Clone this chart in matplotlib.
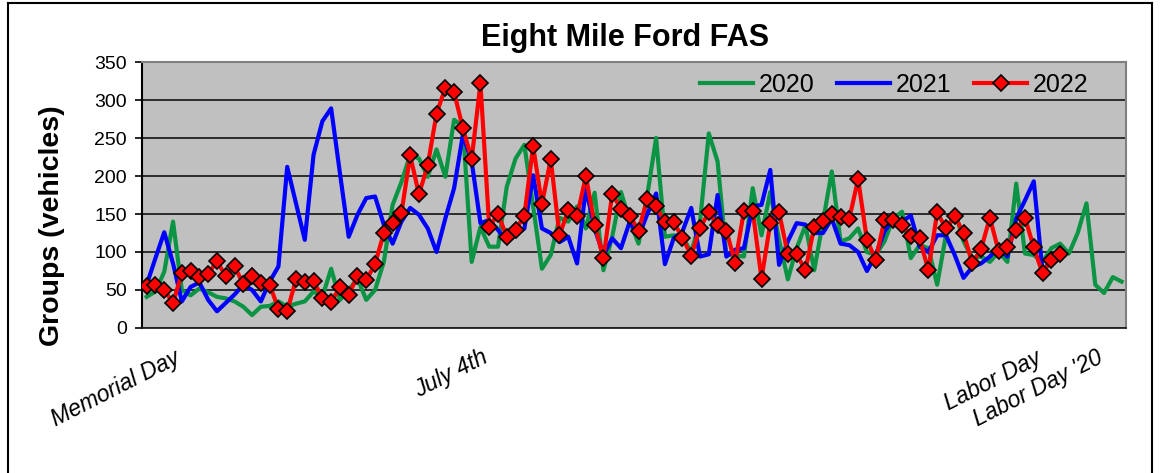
import numpy as np
import matplotlib.pyplot as plt
import matplotlib.transforms as mtransforms
from matplotlib.lines import Line2D

# daily groups, day 0 = 4 days before Memorial Day
y2020 = [41, 48, 74, 140, 50, 43, 52, 47, 41, 39, 35, 28, 17, 28, 29, 35, 28, 32, 35, 48,
         41, 78, 37, 50, 65, 37, 50, 87, 162, 192, 228, 223, 199, 235, 199, 274, 265, 87, 133, 107,
         107, 186, 223, 241, 160, 78, 96, 145, 140, 160, 131, 178, 76, 120, 179, 140, 111, 175, 250, 120,
         122, 120, 100, 140, 256, 219, 96, 96, 94, 184, 122, 179, 116, 64, 105, 135, 76, 140, 206, 114,
         118, 131, 100, 96, 114, 144, 153, 92, 109, 105, 57, 122, 155, 114, 92, 94, 87, 100, 87, 190,
         98, 96, 87, 105, 111, 98, 125, 164, 57, 46, 67, 61]
y2021 = [57, 92, 126, 85, 35, 54, 60, 37, 22, 33, 44, 57, 50, 35, 61, 81, 212, 164, 116, 228,
         272, 289, 204, 120, 149, 171, 173, 136, 111, 140, 158, 149, 131, 100, 144, 184, 254, 219, 138, 142,
         129, 114, 122, 131, 201, 131, 125, 113, 120, 85, 184, 131, 96, 118, 105, 140, 120, 150, 177, 84,
         118, 127, 158, 94, 97, 175, 94, 103, 105, 160, 162, 208, 83, 114, 138, 136, 125, 125, 144, 111,
         109, 100, 75, 96, 127, 144, 140, 148, 107, 100, 122, 122, 96, 66, 80, 85, 94, 106, 94, 144,
         168, 193, 74, 90]
y2022 = [55, 57, 50, 33, 72, 75, 67, 71, 88, 68, 81, 58, 69, 59, 57, 25, 22, 64, 60, 62,
         39, 34, 54, 44, 68, 63, 84, 125, 138, 151, 227, 176, 214, 282, 316, 310, 263, 222, 322, 133,
         150, 120, 129, 148, 239, 163, 222, 122, 155, 147, 200, 136, 92, 176, 157, 148, 128, 170, 160, 139,
         139, 119, 95, 132, 152, 136, 128, 86, 154, 154, 65, 138, 152, 97, 97, 76, 133, 141, 150, 146,
         144, 196, 116, 90, 142, 142, 136, 121, 118, 76, 152, 131, 147, 125, 85, 104, 145, 101, 106, 129,
         145, 106, 72, 90, 98]
series_names = ['2020', '2021', '2022']
holiday_days = [4, 39, 102, 109]
holiday_labels = ['Memorial Day', 'July 4th', 'Labor Day', "Labor Day '20"]

plt.rcParams['font.family'] = ['Liberation Sans', 'DejaVu Sans']

W, H = 1169, 473
fig = plt.figure(figsize=(W / 100, H / 100), dpi=100)
ax = fig.add_axes([142.3 / W, 1 - 328 / H, (1126 - 142.3) / W, (328 - 62) / H])
ax.set_facecolor('#c0c0c0')

ax.plot(np.arange(len(y2020)), y2020, color='#0a9444', lw=3, label=series_names[0], zorder=3)
ax.plot(np.arange(len(y2021)), y2021, color='#0000ff', lw=3, label=series_names[1], zorder=4)
ax.plot(np.arange(len(y2022)), y2022, color='#ff0000', lw=3, marker='D', ms=8,
        mfc='#ff0000', mec='black', mew=1.2, label=series_names[2], zorder=5)

ax.set_xlim(-0.5, 111.5)
ax.set_ylim(0, 350)
ax.set_yticks(np.arange(0, 351, 50))
ax.yaxis.grid(True, color='#202020', lw=1.3)
ax.set_axisbelow(True)
ax.tick_params(axis='y', labelsize=14, length=5, width=1.2, direction='out', pad=6)
ax.set_xticks(holiday_days)
ax.set_xticklabels(holiday_labels, rotation=27, ha='right', rotation_mode='anchor',
                   fontstyle='italic', fontsize=16.5)
ax.tick_params(axis='x', length=0, pad=13)
shift = mtransforms.ScaledTranslation(-0.08, 0, fig.dpi_scale_trans)
for lab in ax.get_xticklabels():
    lab.set_transform(lab.get_transform() + shift)

for s in ['top', 'right']:
    ax.spines[s].set_color('#808080')
    ax.spines[s].set_linewidth(1.5)
ax.spines['left'].set_color('black')
ax.spines['left'].set_linewidth(1.5)
ax.spines['bottom'].set_color('#202020')
ax.spines['bottom'].set_linewidth(1.3)

fig.text(52 / W, 1 - 226 / H, 'Groups (vehicles)', rotation=90, fontsize=20.5,
         fontweight='bold', ha='center', va='center')
fig.text(625.5 / W, 1 - 38 / H, 'Eight Mile Ford FAS', fontsize=22, fontweight='bold',
         ha='center', va='center')

leg = ax.legend(loc='upper right', ncol=3, frameon=False, fontsize=18, handlelength=2.1,
                columnspacing=0.9, handletextpad=0.25, bbox_to_anchor=(0.985, 1.045))

# outer frame of the screenshot
fig.add_artist(Line2D([8 / W, 8 / W], [0, 1 - 3 / H], color='black', lw=1.5))
fig.add_artist(Line2D([8 / W, 1152 / W], [1 - 3 / H, 1 - 3 / H], color='black', lw=1.5))
fig.add_artist(Line2D([1152 / W, 1152 / W], [0, 1 - 3 / H], color='black', lw=1.5))

fig.savefig('out.png', dpi=100)
